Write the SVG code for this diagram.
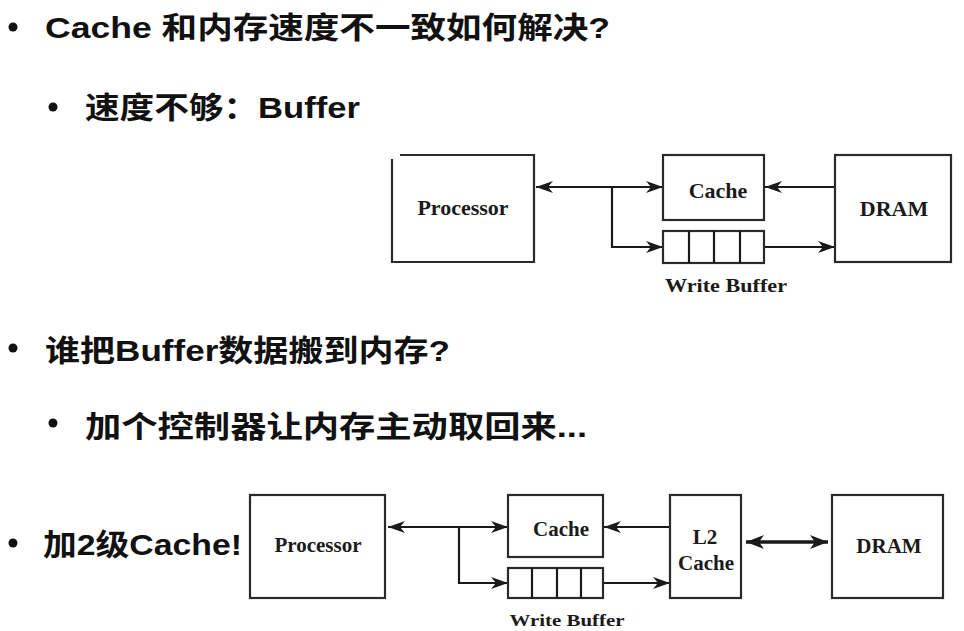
<svg xmlns="http://www.w3.org/2000/svg" width="964" height="631" viewBox="0 0 964 631">
<style>
.t{font-family:"Liberation Sans","Noto Sans CJK SC",sans-serif;font-weight:bold;font-size:30px;fill:#111}
.b{fill:#111}
.box{fill:#fff;stroke:#2a2a2a;stroke-width:2.2}
.lbl{font-family:"Liberation Serif",serif;font-weight:bold;font-size:22px;fill:#1a1a1a;text-anchor:middle}
.wb{font-family:"Liberation Serif",serif;font-weight:bold;font-size:18px;fill:#1a1a1a;text-anchor:middle}
.ln{fill:none;stroke:#1a1a1a;stroke-width:2.2}
.thick{fill:none;stroke:#1a1a1a;stroke-width:3.5}
</style>
<defs>
<marker id="ah" markerUnits="userSpaceOnUse" markerWidth="18" markerHeight="13" refX="17" refY="6" orient="auto-start-reverse">
<path d="M0,0 L17,6 L0,12 L5,6 z" fill="#1a1a1a"/>
</marker>
<marker id="ah2" markerUnits="userSpaceOnUse" markerWidth="19" markerHeight="15" refX="18" refY="7" orient="auto-start-reverse">
<path d="M0,0 L18,7 L0,14 L5,7 z" fill="#1a1a1a"/>
</marker>
</defs>
<rect width="964" height="631" fill="#fff"/>

<g id="text-lines">
<circle class="b" cx="13" cy="27" r="4.5"/>
<text class="t" x="45" y="38" textLength="565" lengthAdjust="spacingAndGlyphs">Cache 和内存速度不一致如何解决?</text>
<circle class="b" cx="53" cy="107" r="4.5"/>
<text class="t" x="85" y="118" textLength="275" lengthAdjust="spacingAndGlyphs">速度不够：Buffer</text>
<circle class="b" cx="13" cy="348" r="4.5"/>
<text class="t" x="45" y="361" textLength="405" lengthAdjust="spacingAndGlyphs">谁把Buffer数据搬到内存?</text>
<circle class="b" cx="53" cy="423" r="4.5"/>
<text class="t" x="85" y="437" textLength="502" lengthAdjust="spacingAndGlyphs">加个控制器让内存主动取回来...</text>
<circle class="b" cx="13" cy="543" r="4.5"/>
<text class="t" x="43" y="555" textLength="199" lengthAdjust="spacingAndGlyphs">加2级Cache!</text>
</g>

<g id="connectors">
<line class="ln" x1="536" y1="187" x2="663" y2="187" marker-start="url(#ah)" marker-end="url(#ah)"/>
<polyline class="ln" points="612,187 612,247 663,247" marker-end="url(#ah)"/>
<line class="ln" x1="835" y1="187" x2="765" y2="187" marker-end="url(#ah)"/>
<line class="ln" x1="764" y1="247" x2="835" y2="247" marker-end="url(#ah)"/>

<line class="ln" x1="388" y1="527" x2="508" y2="527" marker-start="url(#ah)" marker-end="url(#ah)"/>
<polyline class="ln" points="459,527 459,583 508,583" marker-end="url(#ah)"/>
<line class="ln" x1="670" y1="527" x2="604" y2="527" marker-end="url(#ah)"/>
<line class="ln" x1="603" y1="583" x2="670" y2="583" marker-end="url(#ah)"/>
<line class="thick" x1="746" y1="542" x2="828" y2="542" marker-start="url(#ah2)" marker-end="url(#ah2)"/>
</g>

<g id="processor1">
<path d="M400,155 H534 V262 H392 V159" fill="#fff" stroke="#2a2a2a" stroke-width="2.2"/>
<text class="lbl" x="463" y="215">Processor</text>
</g>
<g id="cache1">
<rect class="box" x="663" y="155" width="101" height="65"/>
<text class="lbl" x="718" y="198">Cache</text>
</g>
<g id="writebuffer1">
<rect class="box" x="663" y="231" width="101" height="32"/>
<line class="ln" x1="689" y1="231" x2="689" y2="263"/>
<line class="ln" x1="714" y1="231" x2="714" y2="263"/>
<line class="ln" x1="740" y1="231" x2="740" y2="263"/>
<text class="wb" x="726" y="292" textLength="122" lengthAdjust="spacingAndGlyphs">Write Buffer</text>
</g>
<g id="dram1">
<rect class="box" x="835" y="155" width="116" height="107"/>
<text class="lbl" x="894" y="216">DRAM</text>
</g>

<g id="processor2">
<rect class="box" x="250" y="495" width="135" height="103"/>
<text class="lbl" x="318" y="552" style="font-size:21px">Processor</text>
</g>
<g id="cache2">
<rect class="box" x="508" y="495" width="95" height="62"/>
<text class="lbl" x="561" y="536" style="font-size:21px">Cache</text>
</g>
<g id="writebuffer2">
<rect class="box" x="508" y="568" width="95" height="30"/>
<line class="ln" x1="532" y1="568" x2="532" y2="598"/>
<line class="ln" x1="557" y1="568" x2="557" y2="598"/>
<line class="ln" x1="581" y1="568" x2="581" y2="598"/>
<text class="wb" x="567" y="626" textLength="115" lengthAdjust="spacingAndGlyphs" style="font-size:17px">Write Buffer</text>
</g>
<g id="l2cache">
<rect class="box" x="670" y="495" width="71" height="103"/>
<text class="lbl" x="705" y="544" style="font-size:21px">L2</text>
<text class="lbl" x="706" y="570" style="font-size:21px">Cache</text>
</g>
<g id="dram2">
<rect class="box" x="832" y="495" width="111" height="103"/>
<text class="lbl" x="889" y="553" style="font-size:21px">DRAM</text>
</g>
</svg>
